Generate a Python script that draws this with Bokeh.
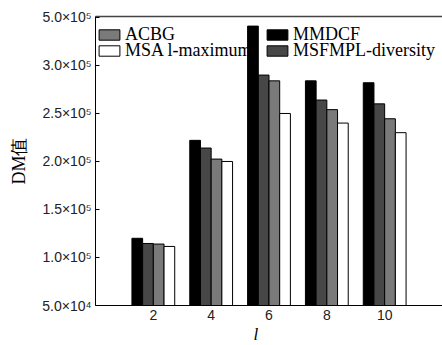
from bokeh.plotting import figure
from bokeh.models import Range1d, FixedTicker, Legend, LegendItem, LinearAxis, Title
from bokeh.embed import file_html
from bokeh.resources import INLINE

# ---- data ----
l_values = [2, 4, 6, 8, 10]
mmdcf = [120000, 222000, 341000, 284000, 282000]
msfmpl_diversity = [114600, 214000, 290000, 264000, 260000]
acbg = [114000, 202500, 284000, 254000, 244500]
msa_l_maximum = [111500, 200000, 250000, 240000, 230000]

y_ticks = [50000, 100000, 150000, 200000, 250000, 300000, 350000]
y_tick_labels = ["5.0×10⁴", "1.0×10⁵", "1.5×10⁵", "2.0×10⁵", "2.5×10⁵", "3.0×10⁵", "5.0×10⁵"]

series_names = ["MMDCF", "MSFMPL-diversity", "ACBG", "MSA l-maximum"]
series_values = [mmdcf, msfmpl_diversity, acbg, msa_l_maximum]
series_colors = ["#000000", "#474747", "#7a7a7a", "#ffffff"]
offsets = [-0.555, -0.185, 0.185, 0.555]
bar_w = 0.37
base = 50000

p = figure(width=442, height=345, output_backend="svg", toolbar_location=None,
           x_range=Range1d(0, 12), y_range=Range1d(50000, 351000),
           min_border_left=95, min_border_right=0, min_border_top=16, min_border_bottom=40)

renderers = {}
for name, vals, col, off in zip(series_names, series_values, series_colors, offsets):
    xs = [x + off for x in l_values]
    r = p.vbar(x=xs, top=vals, bottom=base, width=bar_w, fill_color=col,
               line_color="#000000", line_width=1)
    renderers[name] = r

# grids / outline
p.xgrid.visible = False
p.ygrid.visible = False
p.outline_line_color = None
p.background_fill_color = "white"
p.border_fill_color = "white"

# top border line (no right border in the reference)
top_axis = LinearAxis(ticker=FixedTicker(ticks=[]), axis_line_color="#444444",
                      axis_line_width=1.5, major_tick_in=0, major_tick_out=0,
                      minor_tick_in=0, minor_tick_out=0,
                      major_label_text_font_size="0px")
p.add_layout(top_axis, "above")

# y axis
p.yaxis.ticker = FixedTicker(ticks=y_ticks)
p.yaxis.major_label_overrides = {t: lab for t, lab in zip(y_ticks, y_tick_labels)}
p.yaxis.major_tick_in = 4
p.yaxis.major_tick_out = 0
p.yaxis.minor_tick_line_color = None
p.yaxis.major_label_standoff = 4
p.yaxis.major_label_text_font = "Liberation Sans"
p.yaxis.major_label_text_font_size = "14px"
p.yaxis.major_label_text_color = "#222222"
p.yaxis.axis_line_color = "#000000"
p.yaxis.major_tick_line_color = "#000000"
p.yaxis.axis_label = "DM值"
p.yaxis.axis_label_text_font = "Liberation Serif"
p.yaxis.axis_label_text_font_style = "normal"
p.yaxis.axis_label_text_font_size = "18px"
p.yaxis.axis_label_text_color = "#000000"
p.yaxis.axis_label_standoff = 10

# x axis
bottom_axis = p.below[0]
bottom_axis.ticker = FixedTicker(ticks=l_values)
bottom_axis.major_tick_in = 0
bottom_axis.major_tick_out = 0
bottom_axis.minor_tick_line_color = None
bottom_axis.major_label_standoff = 4
bottom_axis.major_label_text_font = "Liberation Sans"
bottom_axis.major_label_text_font_size = "14px"
bottom_axis.major_label_text_color = "#222222"
bottom_axis.axis_line_color = "#000000"

# x axis title (italic l), as a below-panel title shifted left like the reference
p.add_layout(Title(text="l", align="left", offset=158, standoff=0,
                   text_font="Liberation Serif", text_font_style="italic",
                   text_font_size="17px", text_color="#000000"), "below")

# legend: 2 x 2 grid, one legend per entry for exact placement
def make_legend(name, loc):
    return Legend(items=[LegendItem(label=name, renderers=[renderers[name]])],
                  location=loc, orientation="vertical",
                  padding=0, margin=0, spacing=0,
                  glyph_width=26, glyph_height=13, label_height=13, label_standoff=3,
                  label_text_font="Liberation Serif", label_text_font_size="18px",
                  label_text_color="#000000",
                  background_fill_alpha=0, border_line_color=None)

p.add_layout(make_legend("ACBG", (1, 260)), "center")
p.add_layout(make_legend("MSA l-maximum", (1, 244)), "center")
p.add_layout(make_legend("MMDCF", (169, 260)), "center")
p.add_layout(make_legend("MSFMPL-diversity", (169, 244)), "center")

open("out.html", "w").write(file_html(p, INLINE))
